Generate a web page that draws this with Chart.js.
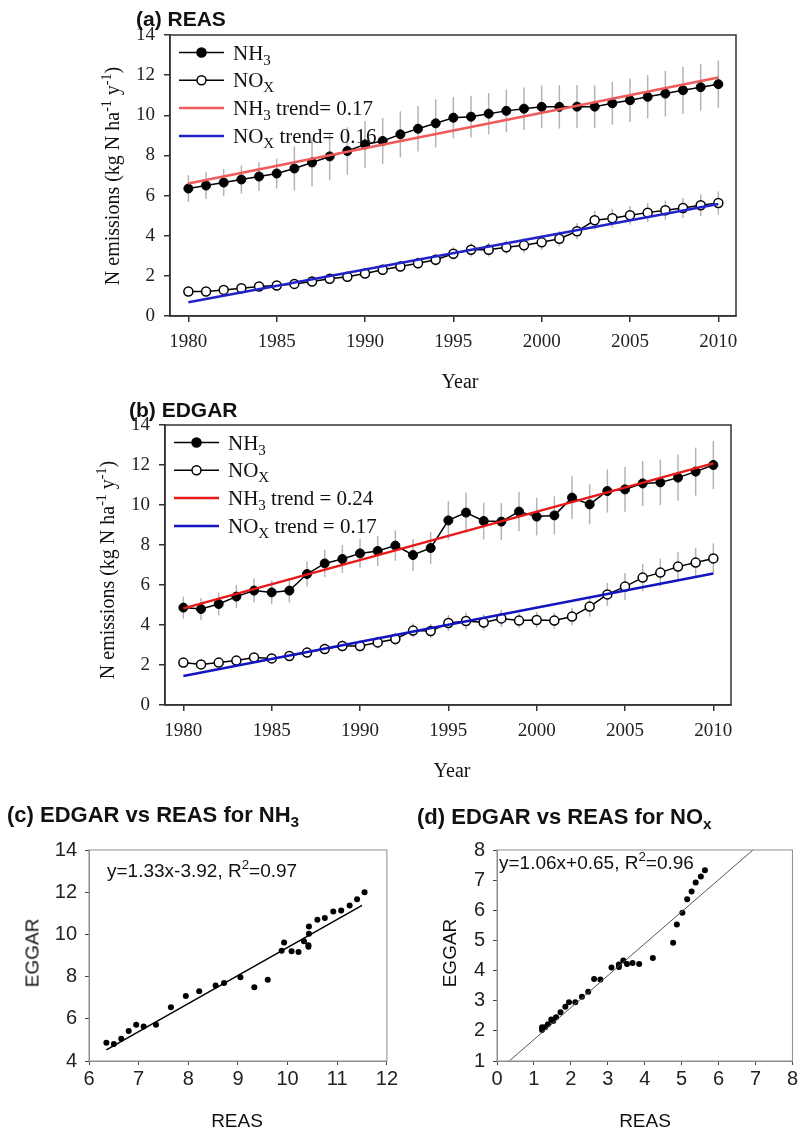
<!DOCTYPE html>
<html>
<head>
<meta charset="utf-8">
<script src="https://cdn.jsdelivr.net/npm/chart.js@4.4.1/dist/chart.umd.min.js"></script>
<style>
  body { margin: 0; background: #fff; }
  #page { position: relative; width: 800px; height: 1133px; overflow: hidden; }
  canvas { position: absolute; }
  .txt { position: absolute; white-space: nowrap; color: #111; line-height: 1; }
  .serif { font-family: 'Liberation Serif', 'Times New Roman', serif; font-size: 20px; }
  .sans { font-family: 'Liberation Sans', Arial, sans-serif; font-size: 19px; }
  .ttl { font-family: 'Liberation Sans', Arial, sans-serif; font-weight: bold; font-size: 21px; }
  .big { font-size: 22px; }
  .rot { transform: translate(-50%, -50%) rotate(-90deg); }
  .ctr { transform: translate(-50%, -50%); }
  .lft { transform: translateY(-50%); }
  sub, sup { font-size: 70%; line-height: 0; }
</style>
</head>
<body>
<div id="page">
  <canvas id="chartA" width="800" height="395" style="left:0;top:0"></canvas>
  <canvas id="chartB" width="800" height="400" style="left:0;top:390px"></canvas>
  <canvas id="chartC" width="400" height="303" style="left:0;top:830px"></canvas>
  <canvas id="chartD" width="400" height="303" style="left:400px;top:830px"></canvas>

  <div class="txt ttl lft" style="left:136px;top:18px">(a) REAS</div>
  <div class="txt serif rot" style="left:112px;top:176px">N emissions (kg N ha<sup>-1</sup> y<sup>-1</sup>)</div>
  <div class="txt serif ctr" style="left:460px;top:381px">Year</div>

  <div class="txt ttl lft" style="left:129px;top:409px">(b) EDGAR</div>
  <div class="txt serif rot" style="left:107px;top:570px">N emissions (kg N ha<sup>-1</sup> y<sup>-1</sup>)</div>
  <div class="txt serif ctr" style="left:452px;top:770px">Year</div>

  <div class="txt ttl big lft" style="left:7px;top:815px">(c) EDGAR vs REAS for NH<sub>3</sub></div>
  <div class="txt sans lft" style="left:107px;top:870px">y=1.33x-3.92, R<sup>2</sup>=0.97</div>
  <div class="txt sans rot" style="left:32px;top:953px">EGGAR</div>
  <div class="txt sans ctr" style="left:237px;top:1120px">REAS</div>

  <div class="txt ttl big lft" style="left:417px;top:817px">(d) EDGAR vs REAS for NO<sub>x</sub></div>
  <div class="txt sans lft" style="left:499px;top:862px">y=1.06x+0.65, R<sup>2</sup>=0.96</div>
  <div class="txt sans rot" style="left:449px;top:953px">EGGAR</div>
  <div class="txt sans ctr" style="left:645px;top:1120px">REAS</div>
</div>

<script>
// values
const years = [1980, 1981, 1982, 1983, 1984, 1985, 1986, 1987, 1988, 1989, 1990,
  1991, 1992, 1993, 1994, 1995, 1996, 1997, 1998, 1999, 2000,
  2001, 2002, 2003, 2004, 2005, 2006, 2007, 2008, 2009, 2010];

const reasNH3 = [6.35, 6.5, 6.65, 6.8, 6.95, 7.1, 7.35, 7.65, 7.95, 8.22, 8.55,
  8.72, 9.05, 9.33, 9.6, 9.88, 9.93, 10.08, 10.22, 10.33, 10.42,
  10.42, 10.43, 10.43, 10.6, 10.75, 10.92, 11.08, 11.25, 11.4, 11.55];
const reasNH3Err = [0.67, 0.67, 0.67, 0.7, 0.72, 0.75, 1.1, 1.2, 1.18, 1.18, 1.17,
  1.15, 1.15, 1.13, 1.2, 1.03, 1.04, 1.03, 1.06, 1.06, 1.07,
  1.08, 1.08, 1.06, 1.07, 1.08, 1.08, 1.14, 1.17, 1.17, 1.18];
const reasNOx = [1.22, 1.22, 1.3, 1.38, 1.47, 1.52, 1.6, 1.72, 1.85, 1.95, 2.12,
  2.3, 2.47, 2.63, 2.8, 3.1, 3.3, 3.3, 3.42, 3.52, 3.67,
  3.85, 4.22, 4.77, 4.87, 5.02, 5.15, 5.27, 5.38, 5.52, 5.63];
const reasNOxErr = [0.12, 0.12, 0.13, 0.14, 0.15, 0.16, 0.18, 0.2, 0.22, 0.23, 0.25,
  0.27, 0.28, 0.3, 0.3, 0.32, 0.33, 0.34, 0.35, 0.36, 0.37,
  0.38, 0.4, 0.46, 0.46, 0.46, 0.47, 0.48, 0.5, 0.54, 0.58];

const edgarNH3 = [4.87, 4.8, 5.05, 5.42, 5.72, 5.63, 5.72, 6.55, 7.08, 7.3, 7.58,
  7.7, 7.97, 7.5, 7.85, 9.23, 9.62, 9.2, 9.17, 9.67, 9.42,
  9.48, 10.37, 10.03, 10.7, 10.78, 11.08, 11.13, 11.37, 11.67, 12.0];
const edgarNH3Err = [0.55, 0.55, 0.57, 0.58, 0.6, 0.6, 0.6, 0.63, 0.68, 0.7, 0.72,
  0.74, 0.76, 0.8, 0.8, 0.96, 1.0, 0.92, 0.92, 0.98, 0.94,
  0.95, 1.07, 1.0, 1.08, 1.12, 1.12, 1.14, 1.16, 1.2, 1.2];
const edgarNOx = [2.12, 2.03, 2.12, 2.22, 2.38, 2.33, 2.45, 2.62, 2.8, 2.95, 2.95,
  3.13, 3.3, 3.72, 3.7, 4.1, 4.2, 4.12, 4.33, 4.22, 4.25,
  4.22, 4.42, 4.92, 5.53, 5.92, 6.37, 6.62, 6.92, 7.12, 7.33];
const edgarNOxErr = [0.2, 0.2, 0.2, 0.22, 0.23, 0.23, 0.24, 0.26, 0.27, 0.28, 0.28,
  0.3, 0.32, 0.35, 0.35, 0.4, 0.42, 0.4, 0.42, 0.37, 0.4,
  0.4, 0.44, 0.5, 0.57, 0.67, 0.68, 0.7, 0.72, 0.74, 0.75];

// trend line end points (1980 and 2010)
const trendYears = [1980, 2010];
const reasNH3Trend = [6.6, 11.88];
const reasNOxTrend = [0.68, 5.58];
const edgarNH3Trend = [4.83, 12.08];
const edgarNOxTrend = [1.45, 6.58];

// regression line end points for (c) and (d)
const fitNH3X = [6.35, 11.5];
const fitNH3Y = [4.53, 11.38];
const fitNOxX = [0.33, 6.93];
const fitNOxY = [1, 8];

const yearTicks = [1980, 1985, 1990, 1995, 2000, 2005, 2010];
const emisTicks = [0, 2, 4, 6, 8, 10, 12, 14];
const nh3XTicks = [6, 7, 8, 9, 10, 11, 12];
const nh3YTicks = [4, 6, 8, 10, 12, 14];
const noxXTicks = [0, 1, 2, 3, 4, 5, 6, 7, 8];
const noxYTicks = [1, 2, 3, 4, 5, 6, 7, 8];

const SERIF = "'Liberation Serif', 'Times New Roman', serif";
const SANS = "'Liberation Sans', Arial, sans-serif";

function pairs(xs, ys) {
  return xs.map((x, i) => ({ x: x, y: ys[i] }));
}

// vertical grey error bars behind the series
const errorBars = {
  id: "errorBars",
  beforeDatasetsDraw(chart) {
    const ctx = chart.ctx;
    const xs = chart.scales.x, ys = chart.scales.y;
    ctx.save();
    ctx.strokeStyle = "#b4b4b4";
    ctx.lineWidth = 1.5;
    chart.data.datasets.forEach(ds => {
      if (!ds.errors) return;
      ds.data.forEach((p, i) => {
        const px = xs.getPixelForValue(p.x);
        ctx.beginPath();
        ctx.moveTo(px, ys.getPixelForValue(p.y - ds.errors[i]));
        ctx.lineTo(px, ys.getPixelForValue(p.y + ds.errors[i]));
        ctx.stroke();
      });
    });
    ctx.restore();
  }
};

// box round the plot area
const frame = {
  id: "frame",
  afterDraw(chart, args, opts) {
    const a = chart.chartArea, ctx = chart.ctx;
    ctx.save();
    ctx.strokeStyle = opts.color || "#333";
    ctx.lineWidth = opts.width || 1.5;
    ctx.strokeRect(a.left, a.top, a.right - a.left, a.bottom - a.top);
    ctx.restore();
  }
};

// legend inside the plot, with subscripts
const innerLegend = {
  id: "innerLegend",
  afterDraw(chart, args, opts) {
    if (!opts.items) return;
    const a = chart.chartArea, ctx = chart.ctx;
    ctx.save();
    opts.items.forEach((it, i) => {
      const y = a.top + 17.5 + i * 27.8;
      const x0 = a.left + 9, x1 = a.left + 54;
      ctx.strokeStyle = it.line;
      ctx.lineWidth = it.lw;
      ctx.beginPath();
      ctx.moveTo(x0, y);
      ctx.lineTo(x1, y);
      ctx.stroke();
      if (it.marker) {
        ctx.beginPath();
        ctx.arc((x0 + x1) / 2, y, 4.5, 0, Math.PI * 2);
        ctx.fillStyle = it.marker;
        ctx.fill();
        ctx.lineWidth = 1.5;
        ctx.strokeStyle = "#000";
        ctx.stroke();
      }
      ctx.fillStyle = "#111";
      ctx.textBaseline = "alphabetic";
      let tx = a.left + 63;
      const base = y + 7;
      ctx.font = "21px " + SERIF;
      ctx.fillText(it.text[0], tx, base);
      tx += ctx.measureText(it.text[0]).width;
      ctx.font = "15px " + SERIF;
      ctx.fillText(it.text[1], tx, base + 5);
      tx += ctx.measureText(it.text[1]).width;
      ctx.font = "21px " + SERIF;
      ctx.fillText(it.text[2], tx, base);
    });
    ctx.restore();
  }
};

function fixedTicks(list) {
  return s => { s.ticks = list.map(v => ({ value: v })); };
}

function seriesChart(id, nh3, nh3Err, nox, noxErr, nh3Tr, noxTr, legendItems, geom) {
  new Chart(document.getElementById(id), {
    type: "line",
    data: {
      datasets: [
        { data: pairs(trendYears, nh3Tr), borderColor: geom.red, borderWidth: 2.5,
          pointRadius: 0, order: 0 },
        { data: pairs(trendYears, noxTr), borderColor: geom.blue, borderWidth: 2.5,
          pointRadius: 0, order: 0 },
        { data: pairs(years, nh3), errors: nh3Err, borderColor: "#000", borderWidth: 1.5,
          pointRadius: 4.5, pointBackgroundColor: "#000", pointBorderColor: "#000",
          pointBorderWidth: 1, order: 1 },
        { data: pairs(years, nox), errors: noxErr, borderColor: "#000", borderWidth: 1.5,
          pointRadius: 4.5, pointBackgroundColor: "#fff", pointBorderColor: "#000",
          pointBorderWidth: 1.5, order: 1 }
      ]
    },
    options: {
      responsive: false,
      animation: false,
      devicePixelRatio: 1,
      layout: { padding: { left: 0, top: geom.top, right: geom.right, bottom: 0 } },
      plugins: {
        legend: { display: false },
        tooltip: { enabled: false },
        frame: { color: "#333", width: 1.5 },
        innerLegend: { items: legendItems }
      },
      scales: {
        x: {
          type: "linear", min: 1978.96, max: 2011.0,
          afterBuildTicks: fixedTicks(yearTicks),
          afterFit: s => { s.height = geom.xh; },
          grid: { drawOnChartArea: false, tickLength: 6, color: "#333", lineWidth: 1.5 },
          border: { color: "#333", width: 1.5 },
          ticks: { font: { family: SERIF, size: 19 }, color: "#222", padding: 9,
            maxRotation: 0, autoSkip: false, callback: v => String(v) }
        },
        y: {
          min: 0, max: 14,
          afterBuildTicks: fixedTicks(emisTicks),
          afterFit: s => { s.width = geom.yw; },
          grid: { drawOnChartArea: false, tickLength: 6, color: "#333", lineWidth: 1.5 },
          border: { color: "#333", width: 1.5 },
          ticks: { font: { family: SERIF, size: 19 }, color: "#222", padding: 9 }
        }
      }
    },
    plugins: [errorBars, frame, innerLegend]
  });
}

seriesChart("chartA", reasNH3, reasNH3Err, reasNOx, reasNOxErr, reasNH3Trend, reasNOxTrend, [
  { line: "#000", lw: 1.5, marker: "#000", text: ["NH", "3", ""] },
  { line: "#000", lw: 1.5, marker: "#fff", text: ["NO", "X", ""] },
  { line: "#ef5a5a", lw: 2.5, text: ["NH", "3", " trend= 0.17"] },
  { line: "#2222c8", lw: 2.5, text: ["NO", "X", " trend= 0.16"] }
], { top: 35, right: 64, xh: 79, yw: 170, red: "#ef5a5a", blue: "#2222c8" });

seriesChart("chartB", edgarNH3, edgarNH3Err, edgarNOx, edgarNOxErr, edgarNH3Trend, edgarNOxTrend, [
  { line: "#000", lw: 1.5, marker: "#000", text: ["NH", "3", ""] },
  { line: "#000", lw: 1.5, marker: "#fff", text: ["NO", "X", ""] },
  { line: "#e81818", lw: 2.5, text: ["NH", "3", " trend = 0.24"] },
  { line: "#1414c0", lw: 2.5, text: ["NO", "X", " trend = 0.17"] }
], { top: 35, right: 69, xh: 85, yw: 165, red: "#e81818", blue: "#1414c0" });

function scatterChart(id, xs, ys, fitX, fitY, xr, yr, xt, yt, geom, fitStyle) {
  new Chart(document.getElementById(id), {
    type: "scatter",
    data: {
      datasets: [
        { data: pairs(xs, ys), pointRadius: 3, pointBackgroundColor: "#000",
          pointBorderColor: "#000", pointBorderWidth: 0, order: 1 },
        { type: "line", data: pairs(fitX, fitY), borderColor: fitStyle.color,
          borderWidth: fitStyle.width, pointRadius: 0, order: 0 }
      ]
    },
    options: {
      responsive: false,
      animation: false,
      devicePixelRatio: 1,
      layout: { padding: { left: 0, top: geom.top, right: geom.right, bottom: 0 } },
      plugins: {
        legend: { display: false },
        tooltip: { enabled: false },
        frame: { color: "#8c8c8c", width: 1 }
      },
      scales: {
        x: {
          type: "linear", min: xr[0], max: xr[1],
          afterBuildTicks: fixedTicks(xt),
          afterFit: s => { s.height = geom.xh; },
          grid: { drawOnChartArea: false, tickLength: 4, color: "#444", lineWidth: 1 },
          border: { color: "#8c8c8c", width: 1 },
          ticks: { font: { family: SANS, size: 20 }, color: "#222", padding: 2,
            maxRotation: 0, autoSkip: false }
        },
        y: {
          min: yr[0], max: yr[1],
          afterBuildTicks: fixedTicks(yt),
          afterFit: s => { s.width = geom.yw; },
          grid: { drawOnChartArea: false, tickLength: 4, color: "#444", lineWidth: 1 },
          border: { color: "#8c8c8c", width: 1 },
          ticks: { font: { family: SANS, size: 20 }, color: "#222", padding: 8 }
        }
      }
    },
    plugins: [frame]
  });
}

scatterChart("chartC", reasNH3, edgarNH3, fitNH3X, fitNH3Y, [6, 12], [4, 14],
  nh3XTicks, nh3YTicks, { top: 15, right: 13, xh: 72, yw: 89 }, { color: "#000", width: 1.5 });

scatterChart("chartD", reasNOx, edgarNOx, fitNOxX, fitNOxY, [0, 8], [1, 8],
  noxXTicks, noxYTicks, { top: 17, right: 7, xh: 72, yw: 97 }, { color: "#555", width: 1 });
</script>
</body>
</html>
